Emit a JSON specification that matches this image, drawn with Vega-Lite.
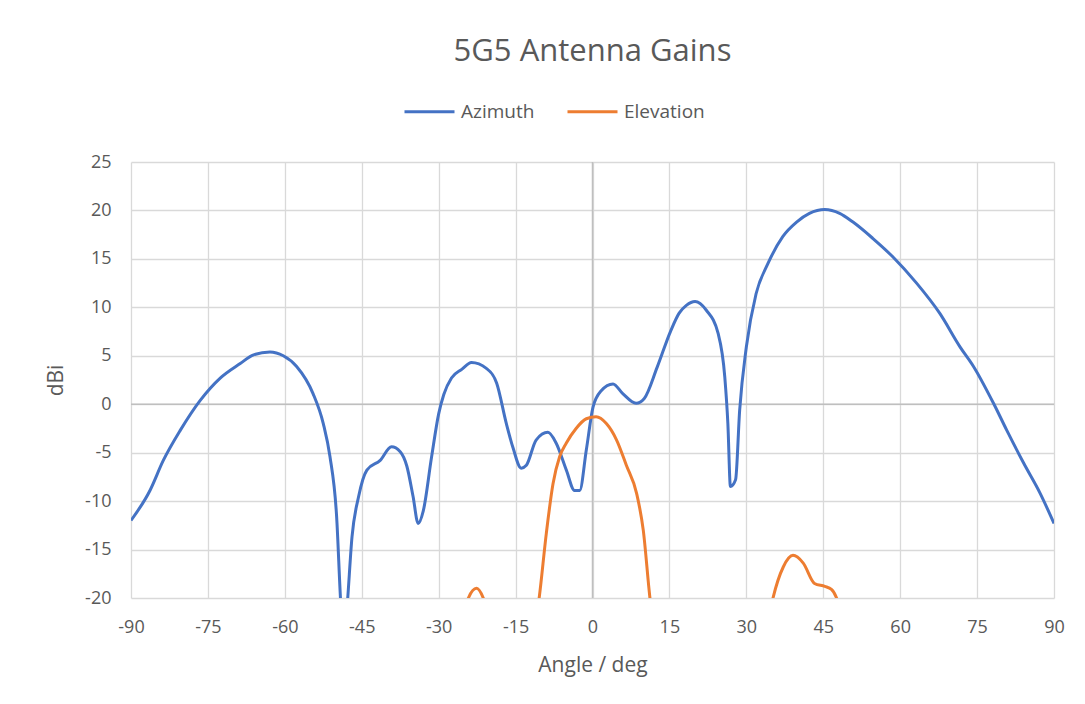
{
  "$schema": "https://vega.github.io/schema/vega-lite/v6.json",
  "autosize": "none",
  "width": 923,
  "height": 436,
  "padding": {"left": 131, "top": 162, "right": 31, "bottom": 106},
  "background": "white",
  "title": {
    "text": "5G5 Antenna Gains",
    "anchor": "middle",
    "font": "Open Sans",
    "fontSize": 31,
    "fontWeight": "normal",
    "color": "#595959",
    "offset": 17
  },
  "config": {
    "view": {"stroke": null},
    "font": "Open Sans",
    "axis": {
      "labelFont": "Open Sans",
      "labelFontSize": 18,
      "labelColor": "#595959",
      "labelFlush": false,
      "titleFont": "Open Sans",
      "titleFontSize": 21,
      "titleFontWeight": "normal",
      "titleColor": "#595959",
      "grid": true,
      "gridColor": "#D9D9D9",
      "gridWidth": 1.3,
      "gridOpacity": 1,
      "domain": false,
      "ticks": false
    }
  },
  "datasets": {
    "gain": [
      {"angle": -90, "dbi": -12.0, "series": "Azimuth"},
      {"angle": -86.3, "dbi": -8.9, "series": "Azimuth"},
      {"angle": -83.7, "dbi": -5.8, "series": "Azimuth"},
      {"angle": -80.4, "dbi": -2.7, "series": "Azimuth"},
      {"angle": -76.5, "dbi": 0.4, "series": "Azimuth"},
      {"angle": -72.6, "dbi": 2.7, "series": "Azimuth"},
      {"angle": -68.7, "dbi": 4.2, "series": "Azimuth"},
      {"angle": -66.1, "dbi": 5.1, "series": "Azimuth"},
      {"angle": -62.9, "dbi": 5.4, "series": "Azimuth"},
      {"angle": -60.3, "dbi": 5.0, "series": "Azimuth"},
      {"angle": -57.7, "dbi": 3.9, "series": "Azimuth"},
      {"angle": -54.5, "dbi": 1.1, "series": "Azimuth"},
      {"angle": -52.5, "dbi": -2.0, "series": "Azimuth"},
      {"angle": -51.2, "dbi": -5.4, "series": "Azimuth"},
      {"angle": -49.9, "dbi": -11.6, "series": "Azimuth"},
      {"angle": -49.1, "dbi": -20.5, "series": "Azimuth"},
      {"angle": -48.5, "dbi": -25, "series": "Azimuth"},
      {"angle": -47.8, "dbi": -20.5, "series": "Azimuth"},
      {"angle": -46.9, "dbi": -13.7, "series": "Azimuth"},
      {"angle": -45.6, "dbi": -9.5, "series": "Azimuth"},
      {"angle": -44.0, "dbi": -6.8, "series": "Azimuth"},
      {"angle": -41.4, "dbi": -5.8, "series": "Azimuth"},
      {"angle": -39.2, "dbi": -4.4, "series": "Azimuth"},
      {"angle": -37.5, "dbi": -4.9, "series": "Azimuth"},
      {"angle": -36.2, "dbi": -6.4, "series": "Azimuth"},
      {"angle": -35.0, "dbi": -9.5, "series": "Azimuth"},
      {"angle": -34.0, "dbi": -12.3, "series": "Azimuth"},
      {"angle": -33.0, "dbi": -11.0, "series": "Azimuth"},
      {"angle": -31.4, "dbi": -5.5, "series": "Azimuth"},
      {"angle": -30.0, "dbi": -1.0, "series": "Azimuth"},
      {"angle": -29.0, "dbi": 1.0, "series": "Azimuth"},
      {"angle": -27.5, "dbi": 2.7, "series": "Azimuth"},
      {"angle": -25.5, "dbi": 3.6, "series": "Azimuth"},
      {"angle": -23.6, "dbi": 4.3, "series": "Azimuth"},
      {"angle": -20.7, "dbi": 3.7, "series": "Azimuth"},
      {"angle": -18.7, "dbi": 2.2, "series": "Azimuth"},
      {"angle": -16.8, "dbi": -2.0, "series": "Azimuth"},
      {"angle": -15.5, "dbi": -4.5, "series": "Azimuth"},
      {"angle": -13.9, "dbi": -6.6, "series": "Azimuth"},
      {"angle": -12.9, "dbi": -6.3, "series": "Azimuth"},
      {"angle": -11.0, "dbi": -3.7, "series": "Azimuth"},
      {"angle": -8.7, "dbi": -2.9, "series": "Azimuth"},
      {"angle": -7.1, "dbi": -4.0, "series": "Azimuth"},
      {"angle": -5.1, "dbi": -6.8, "series": "Azimuth"},
      {"angle": -3.5, "dbi": -8.9, "series": "Azimuth"},
      {"angle": -2.5, "dbi": -8.9, "series": "Azimuth"},
      {"angle": -1.2, "dbi": -4.7, "series": "Azimuth"},
      {"angle": 0.1, "dbi": -0.3, "series": "Azimuth"},
      {"angle": 1.7, "dbi": 1.4, "series": "Azimuth"},
      {"angle": 4.0, "dbi": 2.1, "series": "Azimuth"},
      {"angle": 5.9, "dbi": 1.1, "series": "Azimuth"},
      {"angle": 8.5, "dbi": 0.1, "series": "Azimuth"},
      {"angle": 10.1, "dbi": 0.6, "series": "Azimuth"},
      {"angle": 12.6, "dbi": 3.8, "series": "Azimuth"},
      {"angle": 15.2, "dbi": 7.5, "series": "Azimuth"},
      {"angle": 16.9, "dbi": 9.4, "series": "Azimuth"},
      {"angle": 18.3, "dbi": 10.2, "series": "Azimuth"},
      {"angle": 20.0, "dbi": 10.6, "series": "Azimuth"},
      {"angle": 22.2, "dbi": 9.7, "series": "Azimuth"},
      {"angle": 24.5, "dbi": 7.3, "series": "Azimuth"},
      {"angle": 25.8, "dbi": 2.8, "series": "Azimuth"},
      {"angle": 26.4, "dbi": -2.0, "series": "Azimuth"},
      {"angle": 26.9, "dbi": -8.5, "series": "Azimuth"},
      {"angle": 27.9, "dbi": -7.8, "series": "Azimuth"},
      {"angle": 28.7, "dbi": -0.6, "series": "Azimuth"},
      {"angle": 30.0, "dbi": 5.9, "series": "Azimuth"},
      {"angle": 31.9, "dbi": 11.4, "series": "Azimuth"},
      {"angle": 34.2, "dbi": 14.5, "series": "Azimuth"},
      {"angle": 37.1, "dbi": 17.3, "series": "Azimuth"},
      {"angle": 39.8, "dbi": 18.8, "series": "Azimuth"},
      {"angle": 42.3, "dbi": 19.7, "series": "Azimuth"},
      {"angle": 45.3, "dbi": 20.1, "series": "Azimuth"},
      {"angle": 48.2, "dbi": 19.7, "series": "Azimuth"},
      {"angle": 50.8, "dbi": 18.8, "series": "Azimuth"},
      {"angle": 54.7, "dbi": 17.1, "series": "Azimuth"},
      {"angle": 58.6, "dbi": 15.2, "series": "Azimuth"},
      {"angle": 63.2, "dbi": 12.5, "series": "Azimuth"},
      {"angle": 67.7, "dbi": 9.4, "series": "Azimuth"},
      {"angle": 71.7, "dbi": 5.9, "series": "Azimuth"},
      {"angle": 74.3, "dbi": 3.9, "series": "Azimuth"},
      {"angle": 78.2, "dbi": 0.1, "series": "Azimuth"},
      {"angle": 80.8, "dbi": -2.7, "series": "Azimuth"},
      {"angle": 84.1, "dbi": -6.1, "series": "Azimuth"},
      {"angle": 87.3, "dbi": -9.2, "series": "Azimuth"},
      {"angle": 90.0, "dbi": -12.3, "series": "Azimuth"},
      {"angle": -30.0, "dbi": -30, "series": "Elevation"},
      {"angle": -26.0, "dbi": -24, "series": "Elevation"},
      {"angle": -24.2, "dbi": -20, "series": "Elevation"},
      {"angle": -22.6, "dbi": -19.0, "series": "Elevation"},
      {"angle": -21.3, "dbi": -20, "series": "Elevation"},
      {"angle": -19.0, "dbi": -25, "series": "Elevation"},
      {"angle": -14.0, "dbi": -30, "series": "Elevation"},
      {"angle": -11.5, "dbi": -24, "series": "Elevation"},
      {"angle": -10.4, "dbi": -20, "series": "Elevation"},
      {"angle": -9.0, "dbi": -13.3, "series": "Elevation"},
      {"angle": -7.7, "dbi": -8.2, "series": "Elevation"},
      {"angle": -6.4, "dbi": -5.4, "series": "Elevation"},
      {"angle": -5.1, "dbi": -4.0, "series": "Elevation"},
      {"angle": -3.2, "dbi": -2.5, "series": "Elevation"},
      {"angle": -1.2, "dbi": -1.5, "series": "Elevation"},
      {"angle": 0.7, "dbi": -1.3, "series": "Elevation"},
      {"angle": 2.7, "dbi": -2.0, "series": "Elevation"},
      {"angle": 4.7, "dbi": -3.7, "series": "Elevation"},
      {"angle": 6.6, "dbi": -6.3, "series": "Elevation"},
      {"angle": 8.6, "dbi": -9.2, "series": "Elevation"},
      {"angle": 9.9, "dbi": -13.0, "series": "Elevation"},
      {"angle": 11.2, "dbi": -20, "series": "Elevation"},
      {"angle": 12.5, "dbi": -25, "series": "Elevation"},
      {"angle": 20.0, "dbi": -30, "series": "Elevation"},
      {"angle": 30.0, "dbi": -28, "series": "Elevation"},
      {"angle": 34.0, "dbi": -23, "series": "Elevation"},
      {"angle": 35.2, "dbi": -20, "series": "Elevation"},
      {"angle": 37.2, "dbi": -16.8, "series": "Elevation"},
      {"angle": 39.1, "dbi": -15.6, "series": "Elevation"},
      {"angle": 41.1, "dbi": -16.4, "series": "Elevation"},
      {"angle": 43.3, "dbi": -18.5, "series": "Elevation"},
      {"angle": 45.3, "dbi": -18.8, "series": "Elevation"},
      {"angle": 46.6, "dbi": -19.1, "series": "Elevation"},
      {"angle": 47.6, "dbi": -20, "series": "Elevation"},
      {"angle": 49.0, "dbi": -23, "series": "Elevation"},
      {"angle": 55.0, "dbi": -28, "series": "Elevation"}
    ],
    "zero": [{"v": 0}]
  },
  "layer": [
    {
      "data": {"name": "zero"},
      "mark": {"type": "rule", "color": "#BFBFBF", "strokeWidth": 1.5},
      "encoding": {"y": {"field": "v", "type": "quantitative"}}
    },
    {
      "data": {"name": "zero"},
      "mark": {"type": "rule", "color": "#BFBFBF", "strokeWidth": 1.5},
      "encoding": {"x": {"field": "v", "type": "quantitative"}}
    },
    {
      "data": {"name": "gain"},
      "mark": {"type": "line", "interpolate": "monotone", "strokeWidth": 3, "clip": true},
      "encoding": {
        "x": {
          "field": "angle",
          "type": "quantitative",
          "title": "Angle / deg",
          "scale": {"domain": [-90, 90], "nice": false, "zero": false},
          "axis": {
            "values": [-90, -75, -60, -45, -30, -15, 0, 15, 30, 45, 60, 75, 90],
            "labelExpr": "toString(datum.value)",
            "grid": true,
            "labelFlush": false,
            "labelPadding": 20,
            "titlePadding": 18
          }
        },
        "y": {
          "field": "dbi",
          "type": "quantitative",
          "title": "dBi",
          "scale": {"domain": [-20, 25], "nice": false, "zero": false},
          "axis": {
            "values": [-20, -15, -10, -5, 0, 5, 10, 15, 20, 25],
            "labelExpr": "toString(datum.value)",
            "grid": true,
            "labelFlush": false,
            "labelPadding": 20,
            "titlePadding": 18
          }
        },
        "color": {
          "field": "series",
          "type": "nominal",
          "scale": {"domain": ["Azimuth", "Elevation"], "range": ["#4472C4", "#ED7D31"]},
          "legend": {
            "title": null,
            "orient": "none",
            "direction": "horizontal",
            "legendX": 272,
            "legendY": -77,
            "symbolType": "stroke",
            "symbolSize": 2500,
            "symbolStrokeWidth": 3,
            "labelFont": "Open Sans",
            "labelFontSize": 19,
            "labelColor": "#595959",
            "labelOffset": 5,
            "columnPadding": 26
          }
        }
      }
    }
  ]
}
